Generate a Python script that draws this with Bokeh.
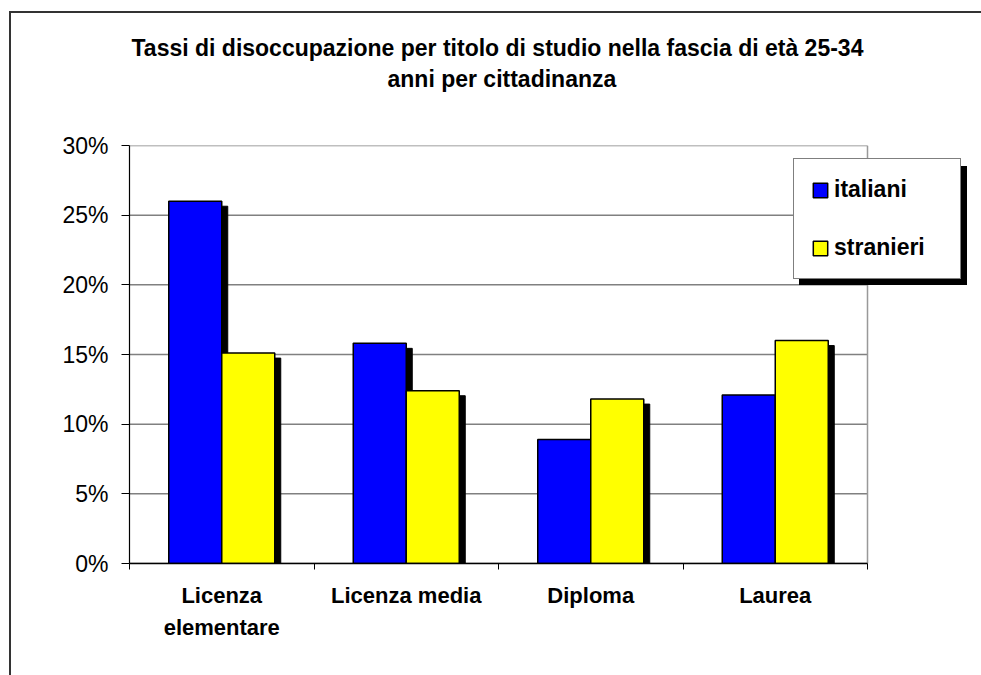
from bokeh.plotting import figure
from bokeh.models import (Range1d, LinearAxis, FixedTicker, PrintfTickFormatter,
                          Legend, LegendItem, Title, ColumnDataSource)
from bokeh.embed import file_html
from bokeh.resources import INLINE

# ---------------- data ----------------
categories = ["Licenza\nelementare", "Licenza media", "Diploma", "Laurea"]
series_names = ["italiani", "stranieri"]
italiani = [26.0, 15.8, 8.9, 12.1]
stranieri = [15.1, 12.4, 11.8, 16.0]
y_ticks = [0, 5, 10, 15, 20, 25, 30]
title_lines = ["Tassi di disoccupazione per titolo di studio nella fascia di età 25-34",
               "anni per cittadinanza"]

# ---------------- geometry / style ----------------
FONT = "Liberation Sans"
BLUE = "#0000FF"
YELLOW = "#FFFF00"
GRID = "#808080"
W, H = 981, 675
PLOT_L, PLOT_R, PLOT_T, PLOT_B = 129, 867, 145, 563   # plot area in page pixels
ML, MT, MB, MR = PLOT_L, PLOT_T, H - PLOT_B, 6
n = len(categories)
y_max = y_ticks[-1]
px_x = n / (PLOT_R - PLOT_L)            # x data units per pixel
px_y = y_max / (PLOT_B - PLOT_T)        # y data units per pixel
x_end = (W - ML - MR) * px_x            # frame is wider than the plot area (room for legend)

p = figure(width=W, height=H, x_range=Range1d(0, x_end), y_range=Range1d(0, y_max),
           output_backend="svg", toolbar_location=None,
           x_axis_type=None, y_axis_type=None,
           min_border_left=ML, min_border_right=MR, min_border_top=MT, min_border_bottom=MB)
p.background_fill_color = "white"
p.border_fill_color = "white"
p.border_fill_alpha = 0
p.outline_line_color = None
# outer chart border (top and left edges), drawn behind the transparent canvas border
p.styles = {
    "background-color": "white",
    "background-image": "linear-gradient(#333333, #333333), linear-gradient(#333333, #333333)",
    "background-position": "9px 11px, 9px 11px",
    "background-size": "2px 3000px, 3000px 2px",
    "background-repeat": "no-repeat",
}

# ---------------- axes ----------------
yax = LinearAxis(ticker=FixedTicker(ticks=y_ticks, minor_ticks=[]),
                 formatter=PrintfTickFormatter(format="%d%%"), bounds=(0, y_max))
yax.axis_line_color = "black"
yax.axis_line_width = 1.2
yax.major_tick_line_color = "black"
yax.major_tick_in = 0
yax.major_tick_out = 8
yax.minor_tick_line_color = None
yax.major_label_text_font = FONT
yax.major_label_text_font_size = "23px"
yax.major_label_text_color = "black"
yax.major_label_standoff = 13
p.add_layout(yax, "left")

centers = [i + 0.5 for i in range(n)]
xax = LinearAxis(ticker=FixedTicker(ticks=centers, minor_ticks=list(range(n + 1))),
                 bounds=(0, n))
xax.major_label_overrides = {c: lab for c, lab in zip(centers, categories)}
xax.axis_line_color = "black"
xax.axis_line_width = 1.5
xax.major_tick_line_color = None
xax.major_tick_in = 0
xax.major_tick_out = 0
xax.minor_tick_line_color = "black"
xax.minor_tick_in = 0
xax.minor_tick_out = 6
xax.major_label_text_font = FONT
xax.major_label_text_font_size = "22px"
xax.major_label_text_font_style = "bold"
xax.major_label_text_color = "black"
xax.major_label_text_line_height = 1.3
xax.major_label_standoff = 13
p.add_layout(xax, "below")

# horizontal grid lines and right border of the plot area
p.segment(x0=[0] * len(y_ticks), x1=[n] * len(y_ticks), y0=y_ticks, y1=y_ticks,
          line_color=GRID, line_width=1.5)
p.segment(x0=[n], x1=[n], y0=[0], y1=[y_max], line_color="#999999", line_width=1.5)

# ---------------- bars ----------------
bw = 53 * px_x
dx, dy = 6 * px_x, 5 * px_y
src = ColumnDataSource(dict(
    x_it=[c - bw / 2 for c in centers], x_st=[c + bw / 2 for c in centers],
    sx_it=[c - bw / 2 + dx for c in centers], sx_st=[c + bw / 2 + dx for c in centers],
    it=italiani, st=stranieri,
    s_it=[v - dy for v in italiani], s_st=[v - dy for v in stranieri]))

p.vbar(x="sx_it", top="s_it", bottom=0, width=bw, source=src, color="black")
p.vbar(x="sx_st", top="s_st", bottom=0, width=bw, source=src, color="black")
r_it = p.vbar(x="x_it", top="it", bottom=0, width=bw, source=src,
              fill_color=BLUE, line_color="black", line_width=1.5)
r_st = p.vbar(x="x_st", top="st", bottom=0, width=bw, source=src,
              fill_color=YELLOW, line_color="black", line_width=1.5)

# ---------------- legend (with drop shadow) ----------------
LX, LY = 793 - PLOT_L, PLOT_B - 279
common = dict(orientation="vertical", padding=17, spacing=31, margin=0,
              glyph_width=18, glyph_height=18, label_standoff=5, label_width=109,
              label_height=26, label_text_font=FONT, label_text_font_size="23px",
              label_text_font_style="bold", border_line_width=1.2)
shadow = Legend(items=[LegendItem(label=" ", renderers=[r_it]),
                       LegendItem(label=" ", renderers=[r_st])],
                location=(LX + 6, LY - 6), background_fill_color="black",
                background_fill_alpha=1.0, border_line_color="black",
                label_text_color="black", **common)
legend = Legend(items=[LegendItem(label=series_names[0], renderers=[r_it]),
                       LegendItem(label=series_names[1], renderers=[r_st])],
                location=(LX, LY), background_fill_color="white",
                background_fill_alpha=1.0, border_line_color="black",
                label_text_color="black", **common)
p.add_layout(shadow)
p.add_layout(legend)

# ---------------- title (stacked upward from the plot area) ----------------
title_kw = dict(text_font=FONT, text_font_size="23px", text_font_style="bold",
                text_color="black", align="left")
p.add_layout(Title(text=" ", standoff=24, **title_kw), "above")              # spacer
p.add_layout(Title(text=title_lines[1], standoff=3, offset=387 - PLOT_L, **title_kw), "above")
p.add_layout(Title(text=title_lines[0], standoff=4, offset=131 - PLOT_L, **title_kw), "above")

open("out.html", "w").write(file_html(p, INLINE))
